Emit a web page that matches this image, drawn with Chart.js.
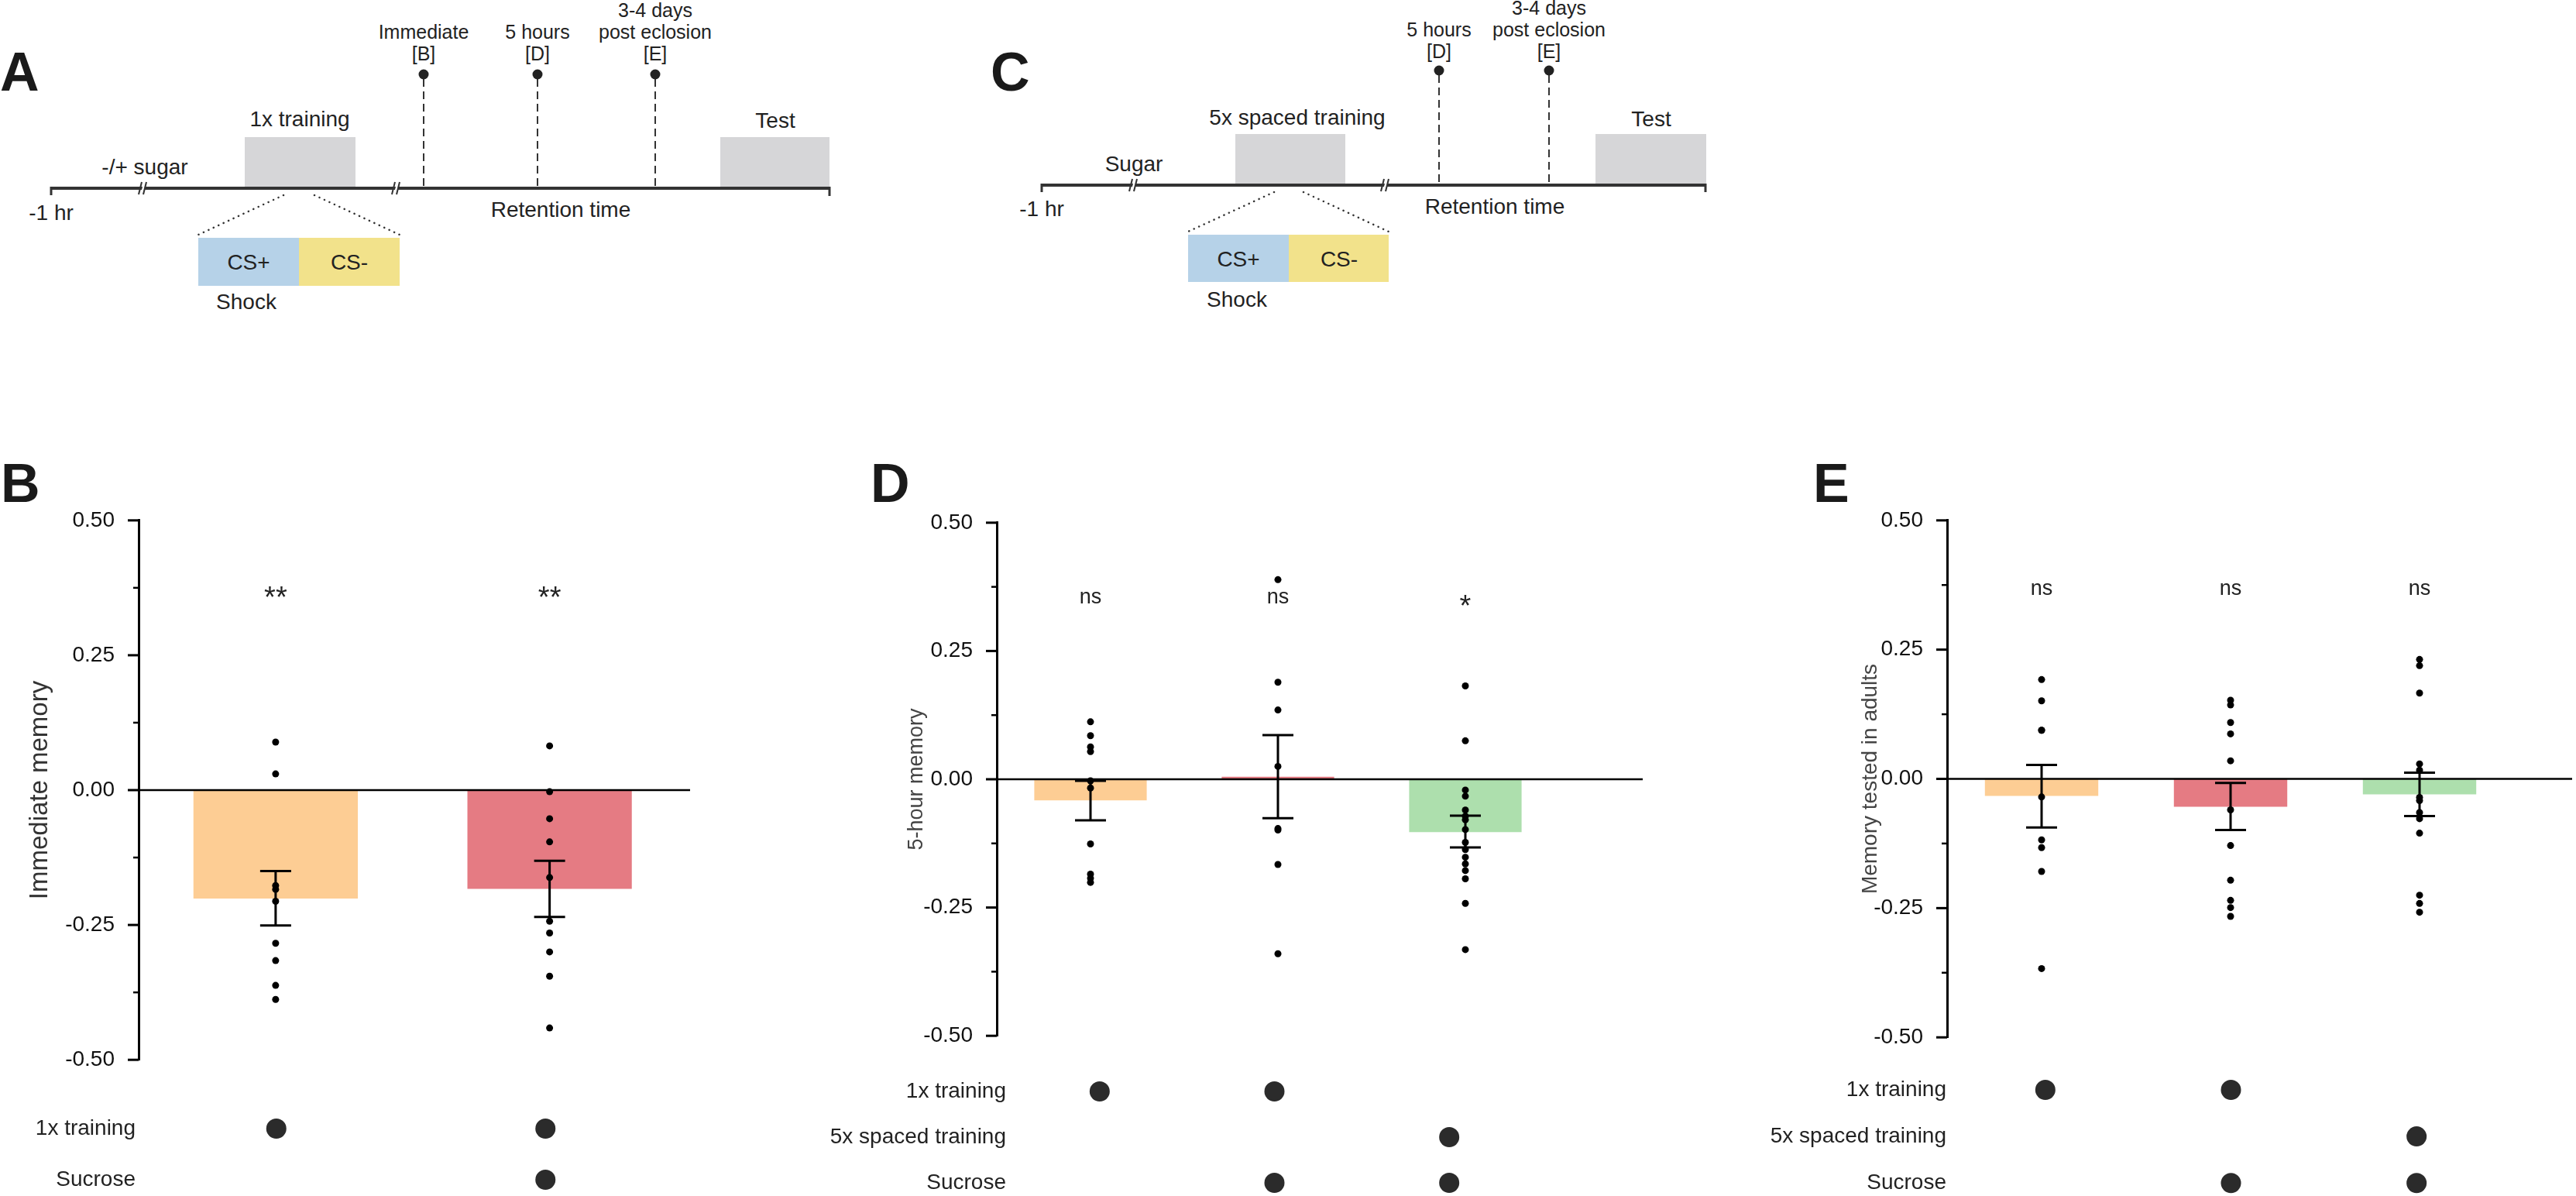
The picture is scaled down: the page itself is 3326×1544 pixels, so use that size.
<!DOCTYPE html>
<html>
<head>
<meta charset="utf-8">
<script src="https://cdn.jsdelivr.net/npm/chart.js@4.4.1/dist/chart.umd.min.js"></script>
<style>
  html, body { margin: 0; padding: 0; background: #fff; }
  body { position: relative; width: 3326px; height: 1544px; overflow: hidden; }
  canvas, svg { position: absolute; }
</style>
</head>
<body>

<svg width="3326" height="1544" style="left:0;top:0" font-family="'Liberation Sans', Arial, sans-serif" fill="#222">
  <!-- panel letters -->
  <g font-size="70" font-weight="bold" fill="#1a1a1a">
    <text x="0" y="117">A</text>
    <text x="1279" y="117">C</text>
    <text x="1" y="648">B</text>
    <text x="1124" y="648">D</text>
    <text x="2341" y="648">E</text>
  </g>

  <!-- A : 1x training schematic -->
  <rect x="316" y="177" width="143" height="66" fill="#d6d6d8"/>
  <rect x="930" y="177" width="141" height="66" fill="#d6d6d8"/>
  <g stroke="#333" stroke-width="2" stroke-dasharray="10 6">
    <line x1="547" y1="102" x2="547" y2="241"/>
    <line x1="694" y1="102" x2="694" y2="241"/>
    <line x1="846" y1="102" x2="846" y2="241"/>
  </g>
  <g fill="#222">
    <circle cx="547" cy="96" r="6.5"/>
    <circle cx="694" cy="96" r="6.5"/>
    <circle cx="846" cy="96" r="6.5"/>
  </g>
  <line x1="66" y1="243" x2="1071" y2="243" stroke="#333" stroke-width="4"/>
  <line x1="66" y1="241" x2="66" y2="252" stroke="#333" stroke-width="3"/>
  <line x1="1071" y1="241" x2="1071" y2="253" stroke="#333" stroke-width="3"/>
  <g stroke-width="2">
    <line x1="183" y1="251" x2="187" y2="235" stroke="#fff" stroke-width="3"/>
    <line x1="179" y1="251" x2="183" y2="235" stroke="#333"/>
    <line x1="185" y1="251" x2="189" y2="235" stroke="#333"/>
    <line x1="510" y1="251" x2="514" y2="235" stroke="#fff" stroke-width="3"/>
    <line x1="506" y1="251" x2="510" y2="235" stroke="#333"/>
    <line x1="512" y1="251" x2="516" y2="235" stroke="#333"/>
  </g>
  <g stroke="#333" stroke-width="2.5" stroke-dasharray="0.1 7" stroke-linecap="round">
    <line x1="366" y1="252" x2="256" y2="303"/>
    <line x1="406" y1="252" x2="516" y2="303"/>
  </g>
  <rect x="256" y="307" width="130" height="62" fill="#b6d2e8"/>
  <rect x="386" y="307" width="130" height="62" fill="#f2e28b"/>
  <g font-size="28" text-anchor="middle">
    <text x="187" y="225">-/+ sugar</text>
    <text x="387" y="163">1x training</text>
    <text x="1001" y="165">Test</text>
    <text x="66" y="284">-1 hr</text>
    <text x="724" y="280">Retention time</text>
    <text x="321" y="348">CS+</text>
    <text x="451" y="348">CS-</text>
    <text x="318" y="399">Shock</text>
  </g>
  <g font-size="25" text-anchor="middle">
    <text x="547" y="50">Immediate</text>
    <text x="547" y="78">[B]</text>
    <text x="694" y="50">5 hours</text>
    <text x="694" y="78">[D]</text>
    <text x="846" y="22">3-4 days</text>
    <text x="846" y="50">post eclosion</text>
    <text x="846" y="78">[E]</text>
  </g>

  <!-- C : 5x spaced training schematic -->
  <rect x="1595" y="173" width="142" height="66" fill="#d6d6d8"/>
  <rect x="2060" y="173" width="143" height="66" fill="#d6d6d8"/>
  <g stroke="#333" stroke-width="2" stroke-dasharray="10 6">
    <line x1="1858" y1="97" x2="1858" y2="237"/>
    <line x1="2000" y1="97" x2="2000" y2="237"/>
  </g>
  <g fill="#222">
    <circle cx="1858" cy="91" r="6.5"/>
    <circle cx="2000" cy="91" r="6.5"/>
  </g>
  <line x1="1345" y1="239" x2="2202" y2="239" stroke="#333" stroke-width="4"/>
  <line x1="1345" y1="237" x2="1345" y2="248" stroke="#333" stroke-width="3"/>
  <line x1="2202" y1="237" x2="2202" y2="248" stroke="#333" stroke-width="3"/>
  <g stroke-width="2">
    <line x1="1462" y1="247" x2="1466" y2="231" stroke="#fff" stroke-width="3"/>
    <line x1="1458" y1="247" x2="1462" y2="231" stroke="#333"/>
    <line x1="1464" y1="247" x2="1468" y2="231" stroke="#333"/>
    <line x1="1787" y1="247" x2="1791" y2="231" stroke="#fff" stroke-width="3"/>
    <line x1="1783" y1="247" x2="1787" y2="231" stroke="#333"/>
    <line x1="1789" y1="247" x2="1793" y2="231" stroke="#333"/>
  </g>
  <g stroke="#333" stroke-width="2.5" stroke-dasharray="0.1 7" stroke-linecap="round">
    <line x1="1645" y1="248" x2="1534" y2="299"/>
    <line x1="1683" y1="248" x2="1793" y2="299"/>
  </g>
  <rect x="1534" y="303" width="130" height="61" fill="#b6d2e8"/>
  <rect x="1664" y="303" width="129" height="61" fill="#f2e28b"/>
  <g font-size="28" text-anchor="middle">
    <text x="1464" y="221">Sugar</text>
    <text x="1675" y="161">5x spaced training</text>
    <text x="2132" y="163">Test</text>
    <text x="1345" y="279">-1 hr</text>
    <text x="1930" y="276">Retention time</text>
    <text x="1599" y="344">CS+</text>
    <text x="1729" y="344">CS-</text>
    <text x="1597" y="396">Shock</text>
  </g>
  <g font-size="25" text-anchor="middle">
    <text x="1858" y="47">5 hours</text>
    <text x="1858" y="75">[D]</text>
    <text x="2000" y="19">3-4 days</text>
    <text x="2000" y="47">post eclosion</text>
    <text x="2000" y="75">[E]</text>
  </g>
</svg>

<canvas id="chartB" width="891" height="776" style="left:0px;top:632px"></canvas>
<canvas id="chartD" width="1021" height="742" style="left:1100px;top:635px"></canvas>
<canvas id="chartE" width="1021" height="747" style="left:2300px;top:632px"></canvas>
<canvas id="matB" width="891" height="106" style="left:0px;top:1437px"></canvas>
<canvas id="matD" width="947" height="158" style="left:1050px;top:1389px"></canvas>
<canvas id="matE" width="993" height="157" style="left:2260px;top:1387px"></canvas>

<script>
// ---- data ----
const barColors = ['#fdcd94', '#e57b83', '#addfad'];

// B: immediate memory
const catsB = ['1x training', '1x training + sucrose'];
const meanB = [-0.201, -0.183];
const errHiB = [-0.150, -0.131];
const errLoB = [-0.251, -0.235];
const ptsB1 = [0.089, 0.030, -0.177, -0.184, -0.206, -0.284, -0.316, -0.362, -0.388];
const ptsB2 = [0.082, -0.003, -0.053, -0.096, -0.162, -0.243, -0.265, -0.300, -0.345, -0.441];
const sigB = ['**', '**'];
const sigLevelB = [0.339, 0.339];

// D: 5-hour memory
const catsD = ['1x training', '1x training + sucrose', '5x spaced + sucrose'];
const meanD = [-0.041, 0.005, -0.103];
const errHiD = [-0.003, 0.086, -0.071];
const errLoD = [-0.080, -0.076, -0.133];
const ptsD1 = [0.112, 0.085, 0.063, 0.054, -0.003, -0.017, -0.126, -0.185, -0.193, -0.201];
const ptsD2 = [0.389, 0.189, 0.135, 0.025, -0.096, -0.099, -0.166, -0.340];
const ptsD3 = [0.182, 0.075, -0.021, -0.033, -0.060, -0.072, -0.079, -0.098, -0.123, -0.137, -0.152, -0.165, -0.178, -0.194, -0.242, -0.332];
const sigD = ['ns', 'ns', '*'];
const sigLevelD = [0.343, 0.343, 0.318];

// E: memory tested in adults
const catsE = ['1x training', '1x training + sucrose', '5x spaced + sucrose'];
const meanE = [-0.033, -0.054, -0.030];
const errHiE = [0.027, -0.008, 0.012];
const errLoE = [-0.094, -0.099, -0.072];
const ptsE1 = [0.192, 0.151, 0.094, 0.094, -0.035, -0.118, -0.133, -0.179, -0.367];
const ptsE2 = [0.152, 0.143, 0.109, 0.087, 0.035, -0.060, -0.129, -0.196, -0.235, -0.249, -0.266];
const ptsE3 = [0.231, 0.219, 0.166, 0.029, 0.017, -0.036, -0.042, -0.065, -0.077, -0.105, -0.225, -0.241, -0.258];
const sigE = ['ns', 'ns', 'ns'];
const sigLevelE = [0.356, 0.356, 0.356];

// condition matrix under the bars
const rowsB = ['1x training', 'Sucrose'];
const matrixB = [[1, 1], [0, 1]];
const rowsDE = ['1x training', '5x spaced training', 'Sucrose'];
const matrixD = [[1, 1, 0], [0, 0, 1], [0, 1, 1]];
const matrixE = [[1, 1, 0], [0, 0, 1], [0, 1, 1]];

Chart.defaults.font.family = "'Liberation Sans', Arial, sans-serif";
Chart.defaults.color = '#222';

const isMajor = v => Math.abs(v * 4 - Math.round(v * 4)) < 1e-9;

function mainChart(id, cats, means, hi, lo, pts, sig, sigLevel, title, lay) {
  const dots = [];
  pts.forEach((list, i) => list.forEach(v => dots.push({ x: cats[i], y: v })));

  // zero line, error bars, tick marks and significance marks
  const extras = {
    id: 'extras' + id,
    afterDatasetDraw(chart, args) {
      if (args.index !== 0) return;
      const { ctx, chartArea, scales: { y } } = chart;
      const py = y.getPixelForValue(0);
      ctx.save();
      ctx.strokeStyle = '#000';
      ctx.lineWidth = 2.5;
      ctx.beginPath();
      ctx.moveTo(chartArea.left, py);
      ctx.lineTo(chart.width, py);
      ctx.stroke();
      ctx.restore();
    },
    afterDatasetsDraw(chart) {
      const { ctx, chartArea, scales: { x, y } } = chart;
      ctx.save();
      ctx.strokeStyle = '#000';
      ctx.lineWidth = 3;
      hi.forEach((h, i) => {
        const cx = x.getPixelForValue(i);
        const yt = y.getPixelForValue(h);
        const yb = y.getPixelForValue(lo[i]);
        ctx.beginPath();
        ctx.moveTo(cx, yt); ctx.lineTo(cx, yb);
        ctx.moveTo(cx - 20, yt); ctx.lineTo(cx + 20, yt);
        ctx.moveTo(cx - 20, yb); ctx.lineTo(cx + 20, yb);
        ctx.stroke();
      });
      // y tick marks
      y.ticks.forEach(t => {
        const py = y.getPixelForValue(t.value);
        const len = isMajor(t.value) ? 14 : 7;
        ctx.lineWidth = isMajor(t.value) ? 3 : 2.5;
        ctx.beginPath();
        ctx.moveTo(chartArea.left - len, py);
        ctx.lineTo(chartArea.left, py);
        ctx.stroke();
      });
      ctx.fillStyle = '#222';
      ctx.textAlign = 'center';
      ctx.textBaseline = 'alphabetic';
      sig.forEach((s, i) => {
        const size = s.includes('*') ? 38 : 27;
        ctx.font = size + "px 'Liberation Sans', Arial, sans-serif";
        ctx.fillText(s, x.getPixelForValue(i), y.getPixelForValue(sigLevel[i]));
      });
      ctx.restore();
    }
  };

  return new Chart(document.getElementById(id), {
    type: 'bar',
    data: {
      labels: cats,
      datasets: [
        {
          type: 'bar',
          data: means,
          backgroundColor: barColors.slice(0, cats.length),
          borderWidth: 0,
          categoryPercentage: 1,
          barPercentage: 0.6,
          order: 2
        },
        {
          type: 'scatter',
          data: dots,
          backgroundColor: '#000',
          borderWidth: 0,
          pointRadius: 4.5,
          clip: false,
          order: 1
        }
      ]
    },
    options: {
      responsive: false,
      animation: false,
      layout: { padding: { top: 30, bottom: 30, left: 0, right: lay.right } },
      plugins: { legend: { display: false }, tooltip: { enabled: false } },
      scales: {
        x: { type: 'category', display: false, offset: true },
        y: {
          min: -0.5,
          max: 0.5,
          grid: { display: false },
          border: { display: true, color: '#000', width: 3 },
          ticks: {
            stepSize: 0.125,
            autoSkip: false,
            padding: 23,
            color: '#111',
            font: { size: 28 },
            callback: v => (isMajor(v) ? v.toFixed(2) : '')
          },
          title: {
            display: true,
            text: title.text,
            color: title.color,
            font: { size: title.size },
            padding: { top: title.pad, bottom: 0 }
          },
          afterFit: s => { s.width = lay.axis; }
        }
      }
    },
    plugins: [extras]
  });
}

function matrixChart(id, cats, rows, mat, lay) {
  const dots = [];
  mat.forEach((row, r) => row.forEach((on, c) => { if (on) dots.push({ x: cats[c], y: rows[r] }); }));
  return new Chart(document.getElementById(id), {
    type: 'scatter',
    data: {
      datasets: [{ data: dots, backgroundColor: '#2b2b2b', borderWidth: 0, pointRadius: 13, clip: false }]
    },
    options: {
      responsive: false,
      animation: false,
      layout: { padding: { top: 20, bottom: lay.bottom, left: 0, right: 0 } },
      plugins: { legend: { display: false }, tooltip: { enabled: false } },
      scales: {
        x: { type: 'category', labels: cats, offset: true, display: false },
        y: {
          type: 'category',
          labels: rows,
          offset: false,
          grid: { display: false },
          border: { display: false },
          ticks: { padding: 0, color: '#222', font: { size: 28 } },
          afterFit: s => { s.width = lay.axis; }
        }
      }
    }
  });
}

mainChart('chartB', catsB, meanB, errHiB, errLoB, [ptsB1, ptsB2], sigB, sigLevelB,
  { text: 'Immediate memory', size: 33, color: '#333', pad: 32 }, { axis: 179, right: 0 });
mainChart('chartD', catsD, meanD, errHiD, errLoD, [ptsD1, ptsD2, ptsD3], sigD, sigLevelD,
  { text: '5-hour memory', size: 27, color: '#444', pad: 67 }, { axis: 187, right: 108 });
mainChart('chartE', catsE, meanE, errHiE, errLoE, [ptsE1, ptsE2, ptsE3], sigE, sigLevelE,
  { text: 'Memory tested in adults', size: 28, color: '#444', pad: 98 }, { axis: 214, right: 75 });

matrixChart('matB', catsB, rowsB, matrixB, { axis: 183, bottom: 20 });
matrixChart('matD', catsD, rowsDE, matrixD, { axis: 257, bottom: 20 });
matrixChart('matE', catsE, rowsDE, matrixE, { axis: 261, bottom: 14 });
</script>
</body>
</html>
